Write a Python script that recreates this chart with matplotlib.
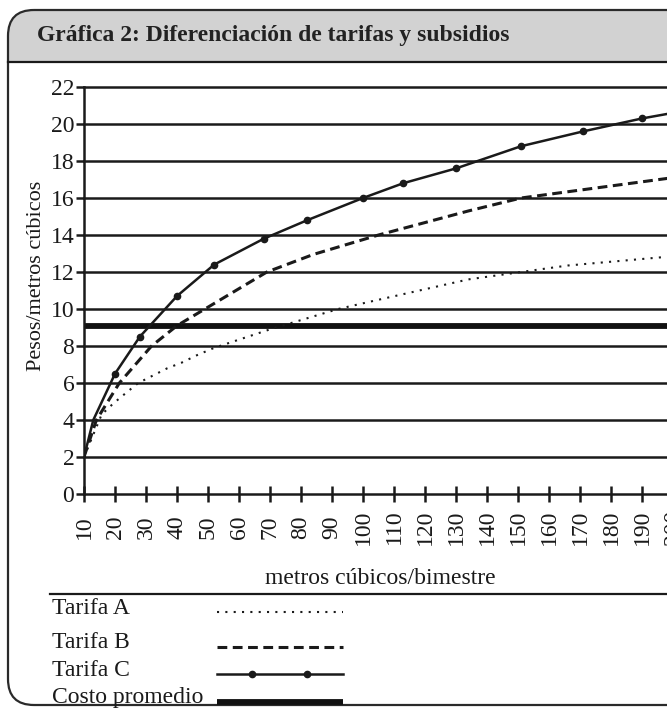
import matplotlib.pyplot as plt
import matplotlib.patches as mpatches

plt.rcParams['font.family'] = ['Liberation Serif', 'DejaVu Serif']

# datos
x_ticks = list(range(10, 201, 10))
y_ticks = list(range(0, 23, 2))
costo_promedio = 9.1

tarifa_a_x = [10, 15.7, 19.5, 23.8, 27.5, 36.9, 41.5, 46.4, 52, 70, 92, 105, 134, 151, 166, 200]
tarifa_a_y = [2, 4.3, 4.9, 5.5, 6.0, 6.8, 7.1, 7.5, 7.9, 8.9, 10.0, 10.5, 11.6, 12.0, 12.35, 12.85]

tarifa_b_x = [10, 14, 21.4, 31.8, 40, 49, 69, 84, 105, 134, 151, 200]
tarifa_b_y = [2, 4, 6, 8, 9.1, 10, 12, 12.95, 14, 15.3, 16, 17.1]

tarifa_c_x = [10, 13, 20, 28, 40, 52, 68, 82, 100, 113, 130, 151, 171, 190, 200]
tarifa_c_y = [2, 4, 6.5, 8.5, 10.7, 12.4, 13.8, 14.8, 16.0, 16.8, 17.6, 18.8, 19.6, 20.3, 20.6]
tarifa_c_puntos = [2, 3, 4, 5, 6, 7, 8, 9, 10, 11, 12, 13]

titulo = 'Gráfica 2: Diferenciación de tarifas y subsidios'
leyenda = ['Tarifa A', 'Tarifa B', 'Tarifa C', 'Costo promedio']

negro = '#1a1a1a'

fig = plt.figure(figsize=(6.67, 7.11), dpi=100)

# fondo en pixeles: marco redondeado y encabezado gris
bg = fig.add_axes([0, 0, 1, 1], zorder=0)
bg.set_xlim(0, 667)
bg.set_ylim(711, 0)
bg.axis('off')

marco = mpatches.FancyBboxPatch((8, 10), 720, 695, boxstyle='round,pad=0,rounding_size=26',
                                fc='white', ec='none', zorder=1)
bg.add_patch(marco)
encabezado = mpatches.Rectangle((0, 0), 760, 62, fc='#d2d2d2', ec='none', zorder=2)
bg.add_patch(encabezado)
encabezado.set_clip_path(marco)
borde = mpatches.FancyBboxPatch((8, 10), 720, 695, boxstyle='round,pad=0,rounding_size=26',
                                fc='none', ec='#2a2a2a', lw=1.6, zorder=3)
bg.add_patch(borde)
bg.plot([8, 667], [62, 62], color=negro, lw=1.6, zorder=3)

bg.text(37, 35, titulo, fontsize=17, fontweight='bold', color='#222222',
        ha='left', va='center', zorder=4)

# leyenda manual bajo la grafica
bg.plot([50, 667], [594, 594], color=negro, lw=1.6, zorder=3)
ley_y = [609, 643, 671, 698]
for txt, yy in zip(leyenda, ley_y):
    bg.text(52, yy, txt, fontsize=17, color=negro, ha='left', va='center', zorder=4)
bg.plot([217, 343], [612, 612], color=negro, lw=1.5, ls=(0, (1, 3)), zorder=4)
bg.plot([217, 343], [647, 647], color=negro, lw=2.2, ls=(0, (3.2, 1.8)), zorder=4)
bg.plot([217, 252, 307, 343], [674, 674, 674, 674], color=negro, lw=1.8,
        marker='o', ms=4.5, markevery=[1, 2], zorder=4)
bg.plot([217, 343], [702, 702], color='#111111', lw=4.2, solid_capstyle='butt', zorder=4)

bg.text(37, 276, 'Pesos/metros cúbicos', fontsize=16, rotation=90, color=negro,
        ha='center', va='center', zorder=4)
bg.text(380, 579, 'metros cúbicos/bimestre', fontsize=17, color=negro,
        ha='center', va='center', zorder=4)

# grafica principal
ax = fig.add_axes([84 / 667, 1 - 494 / 711, 589 / 667, 407 / 711], zorder=1)
ax.patch.set_alpha(0)
ax.set_xlim(10, 200)
ax.set_ylim(0, 22)

for y in y_ticks[1:]:
    ax.axhline(y, color=negro, lw=1.8, zorder=1, clip_on=False)
ax.axhline(costo_promedio, color='#111111', lw=4.2, zorder=2)

ax.plot(tarifa_a_x, tarifa_a_y, color=negro, lw=1.5, ls=(0, (1, 3)), zorder=3)
ax.plot(tarifa_b_x, tarifa_b_y, color=negro, lw=2.2, ls=(0, (3.2, 1.8)), zorder=3)
ax.plot(tarifa_c_x, tarifa_c_y, color=negro, lw=1.8, marker='o', ms=4.5,
        markevery=tarifa_c_puntos, zorder=3)

for spine in ['top', 'right']:
    ax.spines[spine].set_visible(False)
for spine in ['left', 'bottom']:
    ax.spines[spine].set_linewidth(1.8)
    ax.spines[spine].set_color(negro)

ax.set_xticks(x_ticks)
ax.set_yticks(y_ticks)
ax.tick_params(axis='x', direction='inout', length=11.5, width=1.8, color=negro,
               labelsize=17, labelrotation=90, pad=18, labelcolor=negro)
ax.tick_params(axis='y', direction='out', length=6, width=1.8, color=negro,
               labelsize=17, pad=1, labelcolor=negro)
for lab in ax.get_xticklabels():
    lab.set_verticalalignment('center')

fig.savefig('out.png', dpi=100)
